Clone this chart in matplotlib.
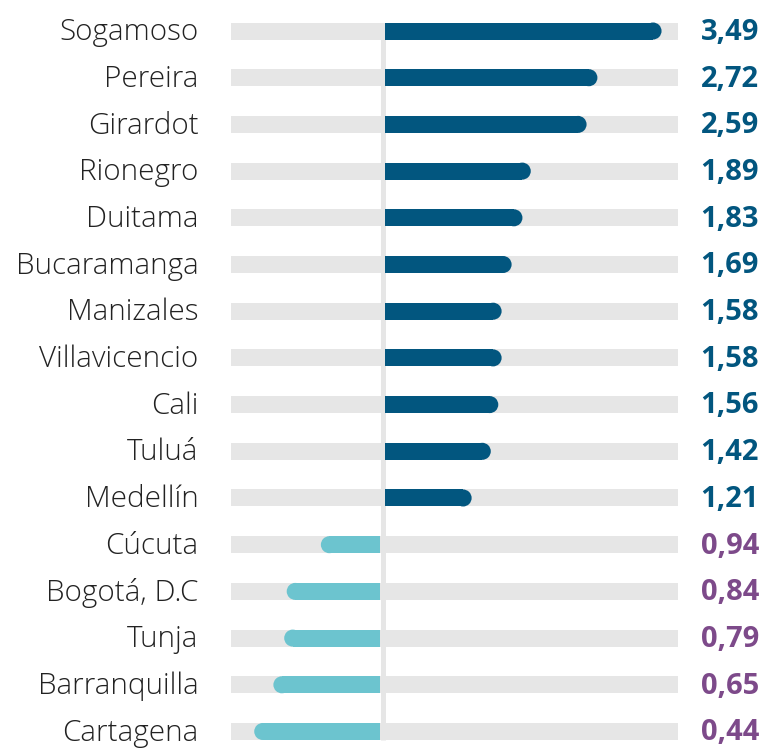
import matplotlib
matplotlib.use('Agg')
import matplotlib.pyplot as plt
from matplotlib.patches import Ellipse

plt.rcParams['font.family'] = ['Open Sans', 'DejaVu Sans']

ciudades = ['Sogamoso', 'Pereira', 'Girardot', 'Rionegro', 'Duitama', 'Bucaramanga',
            'Manizales', 'Villavicencio', 'Cali', 'Tuluá', 'Medellín', 'Cúcuta',
            'Bogotá, D.C', 'Tunja', 'Barranquilla', 'Cartagena']
valores = [3.49, 2.72, 2.59, 1.89, 1.83, 1.69, 1.58, 1.58, 1.56, 1.42, 1.21,
           0.94, 0.84, 0.79, 0.65, 0.44]
# largo de cada barra tal como se ve en la imagen
largo = [3.32, 2.55, 2.42, 1.75, 1.65, 1.52, 1.40, 1.40, 1.36, 1.27, 1.04,
         0.71, 1.12, 1.15, 1.28, 1.51]

azul = '#02567f'
turquesa = '#6cc4cf'
morado = '#7d4a8a'
gris = '#e6e6e6'

fig = plt.figure(figsize=(7.65, 7.49), dpi=100)
ax = fig.add_axes([0, 0, 1, 1])
ax.set_xlim(-4.592, 4.592)
ax.set_ylim(15.375, -0.664)
ax.axis('off')

alto = 0.364
rx = 0.102
fondo_ini, fondo_fin = -1.82, 3.55

ax.plot([0, 0], [-alto / 2, len(ciudades) - 1 + alto / 2], color=gris, lw=3.6,
        solid_capstyle='butt', zorder=1)

for i, (c, v, l) in enumerate(zip(ciudades, valores, largo)):
    ax.barh(i, fondo_fin - fondo_ini, left=fondo_ini, height=alto, color=gris, zorder=0)
    if v >= 1:
        ini = 0.03
        fin = ini + l
        ax.barh(i, fin - rx - ini, left=ini, height=alto, color=azul, lw=0, zorder=2)
        ax.add_patch(Ellipse((fin - rx, i), 2 * rx, alto, color=azul, lw=0, zorder=2))
        col = azul
    else:
        fin = -0.03
        ini = fin - l
        ax.barh(i, fin - ini - rx, left=ini + rx, height=alto, color=turquesa, lw=0, zorder=2)
        ax.add_patch(Ellipse((ini + rx, i), 2 * rx, alto, color=turquesa, lw=0, zorder=2))
        col = morado
    ax.text(-2.21, i + 0.03, c, ha='right', va='center', fontsize=21.3, fontweight='light',
            color='#222222')
    ax.text(4.52, i + 0.03, ('%.2f' % v).replace('.', ','), ha='right', va='center',
            fontsize=21, fontweight='bold', color=col)

fig.savefig('out.png', dpi=100)
